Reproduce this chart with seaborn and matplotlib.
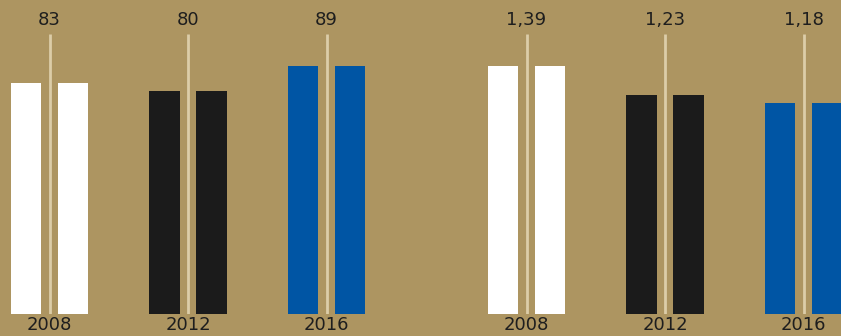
import matplotlib
matplotlib.use("Agg")
import matplotlib.pyplot as plt
import seaborn as sns
import pandas as pd

years = ["2008", "2012", "2016"]
left_values = [83, 80, 89]
left_labels = ["83", "80", "89"]
right_values = [1.39, 1.23, 1.18]
right_labels = ["1,39", "1,23", "1,18"]
bar_colors = ["#FFFFFF", "#1B1B1B", "#0055A4"]

BG = "#AD9561"
LINE = "#DCCDA8"
TEXT = "#1E1E1E"

sns.set_theme(style="white")
plt.rcParams["font.family"] = ["DejaVu Sans"]

W, H = 841, 336
fig = plt.figure(figsize=(W / 100, H / 100), dpi=100)
fig.patch.set_facecolor(BG)

base_frac = 22 / H
split = 415
step = 138.5  # pixels per category


def panel(ax, values, labels, first_center_px, left_px, right_px):
    df = pd.DataFrame({
        "year": [y for y in years for _ in range(2)],
        "side": ["a", "b"] * len(years),
        "value": [v for v in values for _ in range(2)],
    })
    sns.barplot(data=df, x="year", y="value", hue="side", order=years,
                width=0.68, gap=0.35, dodge=True, legend=False,
                palette=["#ffffff", "#ffffff"], ax=ax, errorbar=None,
                saturation=1)
    for cont in ax.containers:
        for i, bar in enumerate(cont):
            bar.set_facecolor(bar_colors[i])
            bar.set_edgecolor("none")
    vmax = max(values)
    top = vmax * 1.13
    for i, lab in enumerate(labels):
        ax.plot([i, i], [0, top], color=LINE, lw=2, solid_capstyle="butt", zorder=3)
        ax.annotate(lab, xy=(i, top), xytext=(0, 6.5), textcoords="offset points",
                    ha="center", va="baseline", fontsize=13, color=TEXT)
    ax.set_ylim(0, vmax * 314 / 248)
    ax.set_xlim((left_px - first_center_px) / step, (right_px - first_center_px) / step)
    ax.set_facecolor(BG)
    for s in ax.spines.values():
        s.set_visible(False)
    ax.set_yticks([])
    ax.set_xlabel("")
    ax.set_ylabel("")
    ax.tick_params(axis="x", length=0, pad=1.5, labelsize=13, labelcolor=TEXT)


ax1 = fig.add_axes([0, base_frac, split / W, 1 - base_frac])
panel(ax1, left_values, left_labels, 49.5, 0, split)
ax2 = fig.add_axes([split / W, base_frac, (W - split) / W, 1 - base_frac])
panel(ax2, right_values, right_labels, 526.5, split, W)

fig.savefig("out.png", dpi=100, facecolor=BG)
